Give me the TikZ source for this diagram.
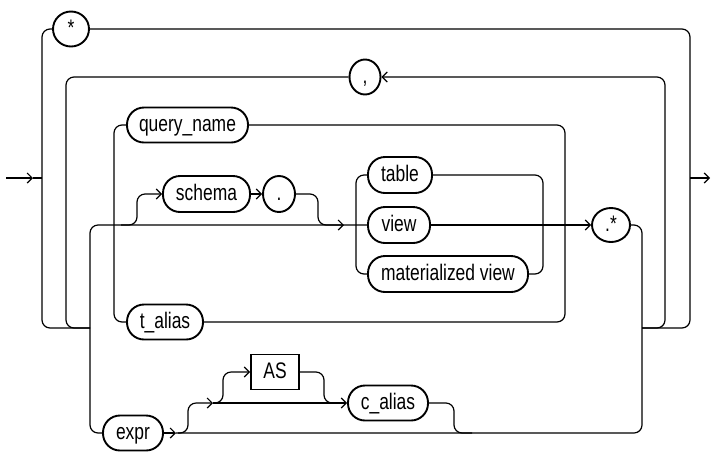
\documentclass[tikz,border=0pt]{standalone}
\usepackage{fontspec}
\setmainfont{Liberation Sans}[FakeStretch=0.775]
\usetikzlibrary{arrows.meta,shapes.geometric}
\begin{document}
\begin{tikzpicture}[x=1pt,y=-1pt,
  conn/.style={line width=1.2pt, rounded corners=8pt},
  arr/.style={conn, -{Straight Barb[length=5pt,width=10pt]}},
  lbl/.style={text height=16pt, text depth=4pt, font=\fontsize{22.5}{24}\selectfont},
  term/.style={lbl, draw, line width=1.9pt, rounded corners=17pt, minimum height=35pt, inner xsep=2pt, inner ysep=0pt},
  circ/.style={lbl, draw, ellipse, line width=1.9pt, inner sep=0pt, minimum height=35pt},
  kw/.style={lbl, draw, rectangle, line width=1.9pt, minimum height=35pt, inner xsep=2pt, inner ysep=0pt}
]
\fill[white] (0,0) rectangle (711,451);
\useasboundingbox (0,0) rectangle (711,451);

% nodes
\node[circ, minimum width=36pt] (star) at (71,29) {*};
\node[circ, minimum width=31pt] (comma) at (365,77) {,};
\node[term, minimum width=121pt] (qname) at (187.5,125) {query\_name};
\node[term, minimum width=87pt, minimum height=36pt] (schema) at (206.5,194) {schema};
\node[circ, minimum width=32pt, minimum height=36pt] (dot) at (279,194) {.};
\node[term, minimum width=64pt, minimum height=36pt] (table) at (400,175) {table};
\node[term, minimum width=62pt, minimum height=36pt] (view) at (399,225) {view};
\node[term, minimum width=160pt, minimum height=36pt] (matview) at (448,274) {materialized view};
\node[circ, minimum width=38pt, minimum height=34pt] (dotstar) at (611,225) {.*};
\node[term, minimum width=76pt] (talias) at (165,322) {t\_alias};
\node[kw, minimum width=48pt] (as) at (275,372) {AS};
\node[term, minimum width=80pt] (calias) at (388,403) {c\_alias};
\node[term, minimum width=60pt] (expr) at (133,433) {expr};

% coordinates
\coordinate (in) at (6,178);
\coordinate (inA) at (33,178);
\coordinate (jL) at (42,178);
\coordinate (jR) at (690,178);
\coordinate (out) at (710,178);
\coordinate (jLB) at (90,328);
\coordinate (jRB) at (642,328);
\coordinate (sB) at (121,225);
\coordinate (sM) at (344,225);
\coordinate (eA) at (176,433);
\coordinate (aB) at (178,433);
\coordinate (aA) at (213,403);
\coordinate (cM) at (340,403);
\coordinate (cJ) at (472,433);

% entry / exit
\draw[arr] (in) -- (inA);
\draw[conn] (inA) -- (jL);
\draw[arr] (jR) -- (out);

% star path
\draw[conn] (star.west) -- (42,29) -- (42,328) -- (jLB);
\draw[conn] (star.east) -- (690,29) -- (690,328) -- (jRB);

% comma loop
\draw[arr] (jRB) -- (665,328) -- (665,77) -- (comma.east);
\draw[conn] (comma.west) -- (66,77) -- (66,328) -- (jLB);

% main vertical and main line
\draw[conn] (expr.west) -- (90,433) -- (90,225) -- (view.west);

% query_name / t_alias
\draw[conn] (qname.west) -- (114,125) -- (114,322) -- (talias.west);
\draw[conn] (qname.east) -- (565,125) -- (565,322) -- (talias.east);

% schema .
\draw[arr] (sB) -- (137,225) -- (137,194) -- (schema.west);
\draw[arr] (schema.east) -- (dot.west);
\draw[arr] (dot.east) -- (318,194) -- (318,225) -- (sM);

% table / view / materialized view
\draw[conn] (table.west) -- (356,175) -- (356,274) -- (matview.west);
\draw[conn] (table.east) -- (543,175) -- (543,274) -- (matview.east);
\draw[arr] (view.east) -- (dotstar.west);

% .* down to bottom
\draw[conn] (dotstar.east) -- (642,225) -- (642,433) -- (eA);
\draw[arr] (expr.east) -- (eA);

% AS / c_alias
\draw[arr] (aB) -- (188,433) -- (188,403) -- (aA);
\draw[arr] (aA) -- (calias.west);
\draw[arr] (aA) -- (223,403) -- (223,372) -- (as.west);
\draw[conn] (as.east) -- (324,372) -- (324,403) -- (cM);
\draw[conn] (calias.east) -- (454,403) -- (454,433) -- (cJ);
\end{tikzpicture}
\end{document}
